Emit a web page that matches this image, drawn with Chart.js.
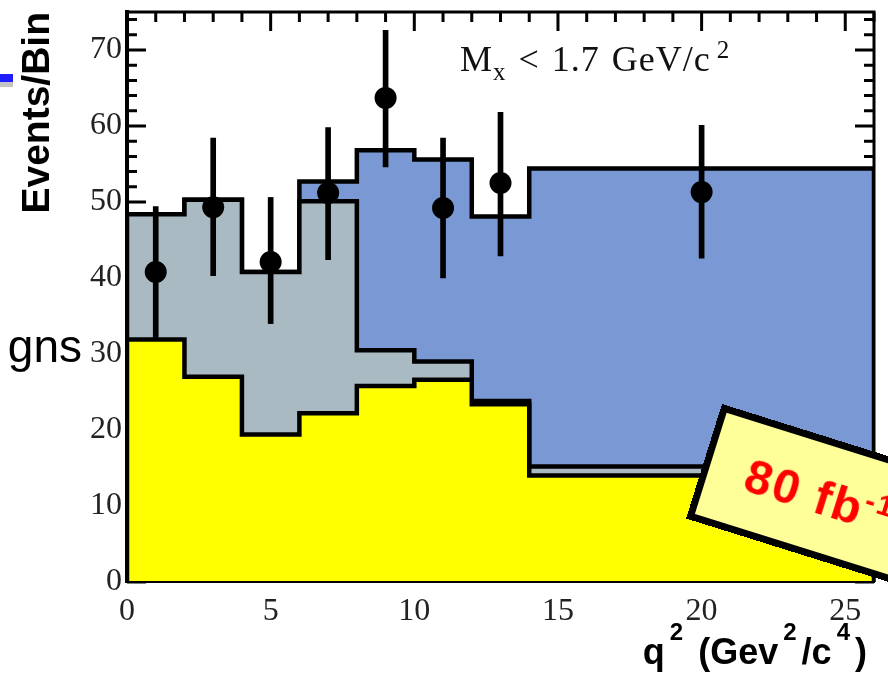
<!DOCTYPE html>
<html>
<head>
<meta charset="utf-8">
<script src="https://cdn.jsdelivr.net/npm/chart.js@4.4.1/dist/chart.umd.min.js"></script>
<style>
  body { margin: 0; width: 888px; height: 679px; overflow: hidden; background: #fff; position: relative; }
  #wrap { position: absolute; left: 0; top: 0; width: 888px; height: 679px; }
  .bar-blue { position: absolute; left: 0; top: 74px; width: 13px; height: 8px; background: #1e1eff; }
  .bar-gray { position: absolute; left: 0; top: 82px; width: 13px; height: 5px; background: #c4c4c4; }
  .side-word { position: absolute; right: 806px; top: 318px; font: 46px "Liberation Sans", Arial, sans-serif; color: #000; line-height: 56px; }
  .cut-label { position: absolute; left: 460px; top: 41px; font: 36px "Liberation Serif", "Times New Roman", serif; line-height: 36px;
               letter-spacing: 1px; word-spacing: 2px; color: #111; white-space: nowrap; }
  .cut-label sub { font-size: 25px; position: relative; top: 9px; vertical-align: baseline; line-height: 0; }
  .cut-label sup { font-size: 25px; position: relative; top: -13px; vertical-align: baseline; line-height: 0; margin-left: 6px; }
  .x-title { position: absolute; right: 21px; top: 634px; font: bold 36px "Liberation Sans", Arial, sans-serif; line-height: 36px;
             color: #000; white-space: nowrap; }
  .x-title sup { font-size: 24px; position: relative; top: -24px; vertical-align: baseline; line-height: 0; margin: 0 5px 0 5px; }
  .lumi { position: absolute; left: 722px; top: 404px; width: 290px; height: 120px; box-sizing: border-box;
          border: 7px solid #000; background: #ffff99; transform: rotate(17.4deg); transform-origin: 0 0;
          font: bold 48px "Liberation Sans", Arial, sans-serif; letter-spacing: 2px; color: #ff0000; padding-left: 37px;
          line-height: 106px; white-space: nowrap; }
  .lumi sup { font-size: 30px; position: relative; top: -18px; vertical-align: baseline; line-height: 0; }
</style>
</head>
<body>
<div id="wrap"><canvas id="chart"></canvas></div>
<div class="bar-blue"></div>
<div class="bar-gray"></div>
<div class="side-word">gns</div>
<div class="cut-label">M<sub>x</sub> &lt; 1.7 GeV/c<sup>2</sup></div>
<div class="x-title">q<sup>2</sup> (Gev<sup>2</sup>/c<sup>4</sup>)</div>
<div class="lumi">80 fb<sup>-1</sup></div>
<script>
// bin edges in q^2 and the stacked levels
const binEdges = [0, 2, 4, 6, 8, 10, 12, 14, 26];
const yellowTop = [31.9, 27.0, 19.4, 22.2, 25.8, 26.6, 23.4, 14.0];
const grayTop = [48.4, 50.3, 40.8, 50.1, 30.5, 29.0, 23.8, 15.2];
const blueTop = [48.4, 50.3, 40.8, 52.7, 56.8, 55.6, 48.1, 54.4];

// data points with error bars
const pointX = [1, 3, 5, 7, 9, 11, 13, 20];
const pointY = [40.8, 49.3, 42.1, 51.2, 63.7, 49.2, 52.5, 51.3];
const errLow = [32.1, 40.3, 34.0, 42.4, 54.6, 40.0, 42.9, 42.6];
const errHigh = [49.4, 58.4, 50.6, 59.8, 72.6, 58.4, 61.8, 60.1];

const xTicks = [0, 5, 10, 15, 20, 25];
const yTicks = [0, 10, 20, 30, 40, 50, 60, 70];

// turn bin contents into a closed step outline
function stepPoints(edges, values) {
    const pts = [{ x: edges[0], y: 0 }];
    values.forEach((v, i) => pts.push({ x: edges[i], y: v }));
    const last = edges[edges.length - 1];
    pts.push({ x: last, y: values[values.length - 1] });
    pts.push({ x: last, y: 0 });
    return pts;
}

function histo(label, values, color, order) {
    return {
        type: "line",
        label: label,
        data: stepPoints(binEdges, values),
        stepped: "before",
        fill: "origin",
        backgroundColor: color,
        borderColor: "#000",
        borderWidth: 4.5,
        borderJoinStyle: "miter",
        pointRadius: 0,
        order: order
    };
}

// ROOT style ticks pointing into the frame, plus top/right frame lines
const rootFrame = {
    id: "rootFrame",
    beforeDatasetsDraw(chart) {
        const { ctx, chartArea: a, scales: { x, y } } = chart;
        ctx.save();
        ctx.strokeStyle = "#000";
        ctx.lineWidth = 3;
        ctx.beginPath();
        for (let v = 0; v <= x.max; v++) {
            const px = x.getPixelForValue(v);
            const len = v % 5 === 0 ? 19 : 10;
            ctx.moveTo(px, a.top); ctx.lineTo(px, a.top + len);
            ctx.moveTo(px, a.bottom); ctx.lineTo(px, a.bottom - len);
        }
        for (let v = 0; v <= y.max; v += 2) {
            const py = y.getPixelForValue(v);
            const len = v % 10 === 0 ? 19 : 10;
            ctx.moveTo(a.left, py); ctx.lineTo(a.left + len, py);
            ctx.moveTo(a.right, py); ctx.lineTo(a.right - len, py);
        }
        ctx.stroke();
        ctx.restore();
    },
    afterDatasetsDraw(chart) {
        const { ctx, chartArea: a } = chart;
        ctx.save();
        ctx.strokeStyle = "#000";
        ctx.lineWidth = 3;
        ctx.beginPath();
        ctx.moveTo(a.left, a.top);
        ctx.lineTo(a.right, a.top);
        ctx.lineTo(a.right, a.bottom);
        ctx.stroke();
        ctx.restore();
    }
};

const ctx = document.getElementById("chart").getContext("2d");

new Chart(ctx, {
    type: "line",
    data: {
        datasets: [
            {
                type: "line",
                label: "Data",
                data: pointX.map((x, i) => ({ x: x, y: pointY[i] })),
                showLine: false,
                pointRadius: 11,
                pointBackgroundColor: "#000",
                pointBorderWidth: 0,
                order: 1
            },
            {
                type: "bar",
                label: "Errors",
                data: pointX.map((x, i) => ({ x: x, y: [errLow[i], errHigh[i]] })),
                backgroundColor: "#000",
                barThickness: 5,
                grouped: false,
                order: 2
            },
            histo("Yellow", yellowTop, "#ffff00", 3),
            histo("Gray", grayTop, "#aabac2", 4),
            histo("Blue", blueTop, "#7a98d4", 5)
        ]
    },
    options: {
        responsive: true,
        maintainAspectRatio: false,
        animation: false,
        layout: { padding: { top: 12, right: 14, left: 0, bottom: 38.6 } },
        plugins: {
            legend: { display: false },
            tooltip: { enabled: false }
        },
        scales: {
            x: {
                type: "linear",
                min: 0,
                max: 26,
                offset: false,
                grid: { display: false, drawTicks: false },
                border: { display: true, color: "#000", width: 2, z: 1 },
                afterBuildTicks: axis => { axis.ticks = xTicks.map(v => ({ value: v })); },
                ticks: {
                    padding: 10,
                    color: "#222",
                    font: { family: "'Liberation Serif', 'Times New Roman', serif", size: 32 }
                },
                title: { display: false, text: "q² (Gev²/c⁴)" }
            },
            y: {
                min: 0,
                max: 75,
                grid: { display: false, drawTicks: false },
                border: { display: true, color: "#000", width: 4, z: 1 },
                afterBuildTicks: axis => { axis.ticks = yTicks.map(v => ({ value: v })); },
                ticks: {
                    padding: 5,
                    color: "#222",
                    font: { family: "'Liberation Serif', 'Times New Roman', serif", size: 32, lineHeight: 0.4 }
                },
                title: {
                    display: true,
                    text: "Events/Bin",
                    align: "end",
                    color: "#000",
                    padding: { top: 14.6, bottom: 23.6 },
                    font: { family: "'Liberation Sans', Arial, sans-serif", size: 39, weight: "bold" }
                }
            }
        }
    },
    plugins: [rootFrame]
});
</script>
</body>
</html>
